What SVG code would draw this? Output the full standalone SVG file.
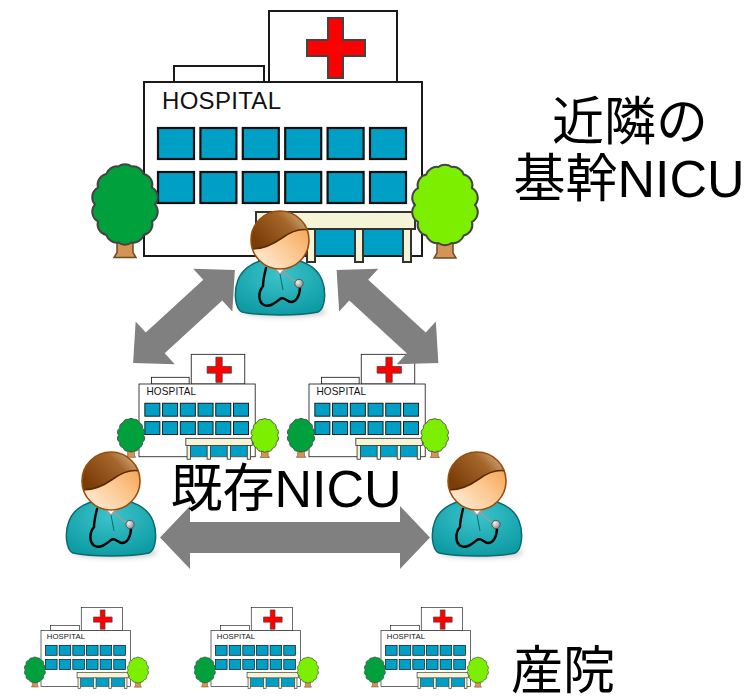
<svg xmlns="http://www.w3.org/2000/svg" width="753" height="699" viewBox="0 0 753 699">
<style>
.bldg{fill:#fff;stroke:#1a1a1a;stroke-width:2}
.win{fill:#00a0c6;stroke:#111;stroke-width:2.2}
.cross{fill:#f00;stroke:#444;stroke-width:2}
.sign{font-family:"Liberation Sans",Arial,sans-serif;font-size:24px;fill:#111}
.canopy{fill:#f6f4d6;stroke:#333;stroke-width:2}
.door{fill:#00a0c6}
.trunk{fill:#d39456;stroke:#6b4a2a;stroke-width:1.5}
.crown{stroke:#444;stroke-width:2}
.arrow{fill:#808080}
.label{font-family:"Liberation Sans","Noto Sans CJK JP",sans-serif;font-size:52px;fill:#000;text-anchor:middle}
</style>
<defs>
  <linearGradient id="face" x1="0" y1="1" x2="1" y2="0">
    <stop offset="0" stop-color="#fff3e4"/>
    <stop offset="0.5" stop-color="#fcc891"/>
    <stop offset="1" stop-color="#f2973a"/>
  </linearGradient>
  <linearGradient id="hair" x1="0" y1="0.6" x2="1" y2="0">
    <stop offset="0" stop-color="#7a3d07"/>
    <stop offset="0.55" stop-color="#a5662a"/>
    <stop offset="1" stop-color="#ecdcbc"/>
  </linearGradient>
  <radialGradient id="scrubs" cx="0.5" cy="0.3" r="0.7">
    <stop offset="0" stop-color="#3cc3cb"/>
    <stop offset="1" stop-color="#0e9ca4"/>
  </radialGradient>
  <radialGradient id="chest" cx="0.35" cy="0.35" r="0.7">
    <stop offset="0" stop-color="#f2f2f2"/>
    <stop offset="1" stop-color="#8a8a8a"/>
  </radialGradient>
  <filter id="soft" x="-50%" y="-200%" width="200%" height="500%">
    <feGaussianBlur stdDeviation="3"/>
  </filter>
  <clipPath id="headClip"><circle cx="0" cy="0" r="29"/></clipPath>

  <!-- tree: trunk plus scalloped crown; crown colour comes from the <use> -->
  <g id="tree">
    <path class="trunk" d="M-8,24 L-8,48 L-11,53 L11,53 L8,48 L8,24 Z"/>
    <path class="crown" d="M30,0 A11,11 0 0 1 27.03,16.92 A11,11 0 0 1 18.71,30.49 A11,11 0 0 1 6.68,38.02 A11,11 0 0 1 -6.68,38.02 A11,11 0 0 1 -18.71,30.49 A11,11 0 0 1 -27.03,16.92 A11,11 0 0 1 -30,0 A11,11 0 0 1 -27.03,-16.92 A11,11 0 0 1 -18.71,-30.49 A11,11 0 0 1 -6.68,-38.02 A11,11 0 0 1 6.68,-38.02 A11,11 0 0 1 18.71,-30.49 A11,11 0 0 1 27.03,-16.92 A11,11 0 0 1 30,0 Z"/>
  </g>

  <!-- hospital building drawn at full size -->
  <g id="hospital-art">
    <rect class="bldg" x="174" y="66" width="90" height="16"/>
    <rect class="bldg" x="269" y="11" width="128" height="71"/>
    <polygon class="cross" points="328,18 343,18 343,40 365,40 365,56 343,56 343,78 328,78 328,56 307,56 307,40 328,40"/>
    <rect class="bldg" x="144" y="82" width="278" height="174"/>
    <text class="sign" x="162" y="109" letter-spacing="0.3">HOSPITAL</text>
    <g class="win">
      <rect x="158" y="128" width="36" height="31"/>
      <rect x="200.4" y="128" width="36" height="31"/>
      <rect x="242.8" y="128" width="36" height="31"/>
      <rect x="285.2" y="128" width="36" height="31"/>
      <rect x="327.6" y="128" width="36" height="31"/>
      <rect x="370" y="128" width="36" height="31"/>
      <rect x="158" y="172" width="36" height="31"/>
      <rect x="200.4" y="172" width="36" height="31"/>
      <rect x="242.8" y="172" width="36" height="31"/>
      <rect x="285.2" y="172" width="36" height="31"/>
      <rect x="327.6" y="172" width="36" height="31"/>
      <rect x="370" y="172" width="36" height="31"/>
    </g>
    <rect class="door" x="262" y="229" width="146" height="26"/>
    <g class="canopy">
      <rect x="259" y="228" width="8" height="34"/>
      <rect x="307" y="228" width="8" height="34"/>
      <rect x="355" y="228" width="8" height="34"/>
      <rect x="403" y="228" width="8" height="34"/>
      <rect x="256" y="212" width="159" height="17"/>
    </g>
    <use href="#tree" transform="translate(125,204.5)" fill="#00a03c"/>
    <use href="#tree" transform="translate(445,205)" fill="#7cee00"/>
  </g>

  <!-- doctor figure, head centred on the origin -->
  <g id="doctor-art">
    <ellipse cx="4" cy="71" rx="42" ry="5" fill="#000" opacity="0.28" filter="url(#soft)"/>
    <path d="M-38,72 C-46,68 -46,50 -42,40 C-37,27 -22,18 0,18 C22,18 37,27 42,40 C46,50 46,68 38,72 C20,76 -20,76 -38,72 Z" fill="url(#scrubs)" stroke="#0a6a70" stroke-width="1.5"/>
    <path d="M-11,21 L0,34 L11,21 Z" fill="#fff" stroke="#9a9a9a" stroke-width="1"/>
    <path d="M0,34 L3,50" stroke="#0a6a70" stroke-width="1" fill="none"/>
    <path d="M-9,23 C-7,28 -4,31 -1,33 M9,23 C7,28 4,31 1,33 M3,31 C8,36 12,40 16,42" stroke="#9d9d9d" stroke-width="1.5" fill="none"/>
    <path d="M-14,28 C-16,36 -17,42 -17,46 C-22,52 -22,62 -16,65 C-10,68 -4,62 0,59 C4,56 7,62 11,62 C16,62 20,56 20,47" stroke="#000" stroke-width="2.4" fill="none" stroke-linecap="round"/>
    <circle cx="19" cy="43.5" r="4.2" fill="url(#chest)" stroke="#555" stroke-width="1"/>
    <circle cx="0" cy="0" r="29" fill="url(#face)"/>
    <g clip-path="url(#headClip)">
      <path d="M-32,9 C-18,10 -8,5 2,-2 C10,-8 20,-12 32,-10 L32,-32 L-32,-32 Z" fill="url(#hair)"/>
      <path d="M-30,8.5 C-18,10 -8,5 2,-2 C10,-8 20,-12 30,-10" fill="none" stroke="#5b2a04" stroke-width="1.6"/>
    </g>
    <circle cx="0" cy="0" r="29" fill="none" stroke="#9a4d0b" stroke-width="1.6"/>
  </g>
</defs>

<!-- regional core NICU -->
<g id="core-hospital">
  <use href="#hospital-art"/>
</g>

<!-- existing NICUs -->
<g id="nicu-hospital-1">
  <use href="#hospital-art" transform="translate(139,384) scale(0.418) translate(-144,-82)"/>
</g>
<g id="nicu-hospital-2">
  <use href="#hospital-art" transform="translate(309,384) scale(0.418) translate(-144,-82)"/>
</g>

<!-- maternity clinics -->
<g id="clinic-1">
  <use href="#hospital-art" transform="translate(41,630.5) scale(0.322) translate(-144,-82)"/>
</g>
<g id="clinic-2">
  <use href="#hospital-art" transform="translate(211,630.5) scale(0.322) translate(-144,-82)"/>
</g>
<g id="clinic-3">
  <use href="#hospital-art" transform="translate(381,630.5) scale(0.322) translate(-144,-82)"/>
</g>

<!-- two-way links between doctors -->
<g id="connectors">
  <polygon class="arrow" transform="translate(184,316.5) rotate(-42.5)" points="-69,0 -39,-29 -39,-14 39,-14 39,-29 69,0 39,29 39,14 -39,14 -39,29"/>
  <polygon class="arrow" transform="translate(387.5,316.5) rotate(42.5)" points="-69,0 -39,-29 -39,-14 39,-14 39,-29 69,0 39,29 39,14 -39,14 -39,29"/>
  <polygon class="arrow" transform="translate(295,537.5)" points="-135,0 -105,-31.5 -105,-15.5 105,-15.5 105,-31.5 135,0 105,31.5 105,15.5 -105,15.5 -105,31.5"/>
</g>

<g id="doctor-core">
  <use href="#doctor-art" transform="translate(280,240)"/>
</g>
<g id="doctor-left">
  <use href="#doctor-art" transform="translate(111,481)"/>
</g>
<g id="doctor-right">
  <use href="#doctor-art" transform="translate(477,481)"/>
</g>

<g id="labels">
  <text class="label" x="630" y="140">近隣の</text>
  <text class="label" x="629" y="197">基幹NICU</text>
  <text class="label" x="286" y="507">既存NICU</text>
  <text class="label" x="563" y="689">産院</text>
</g>
</svg>
